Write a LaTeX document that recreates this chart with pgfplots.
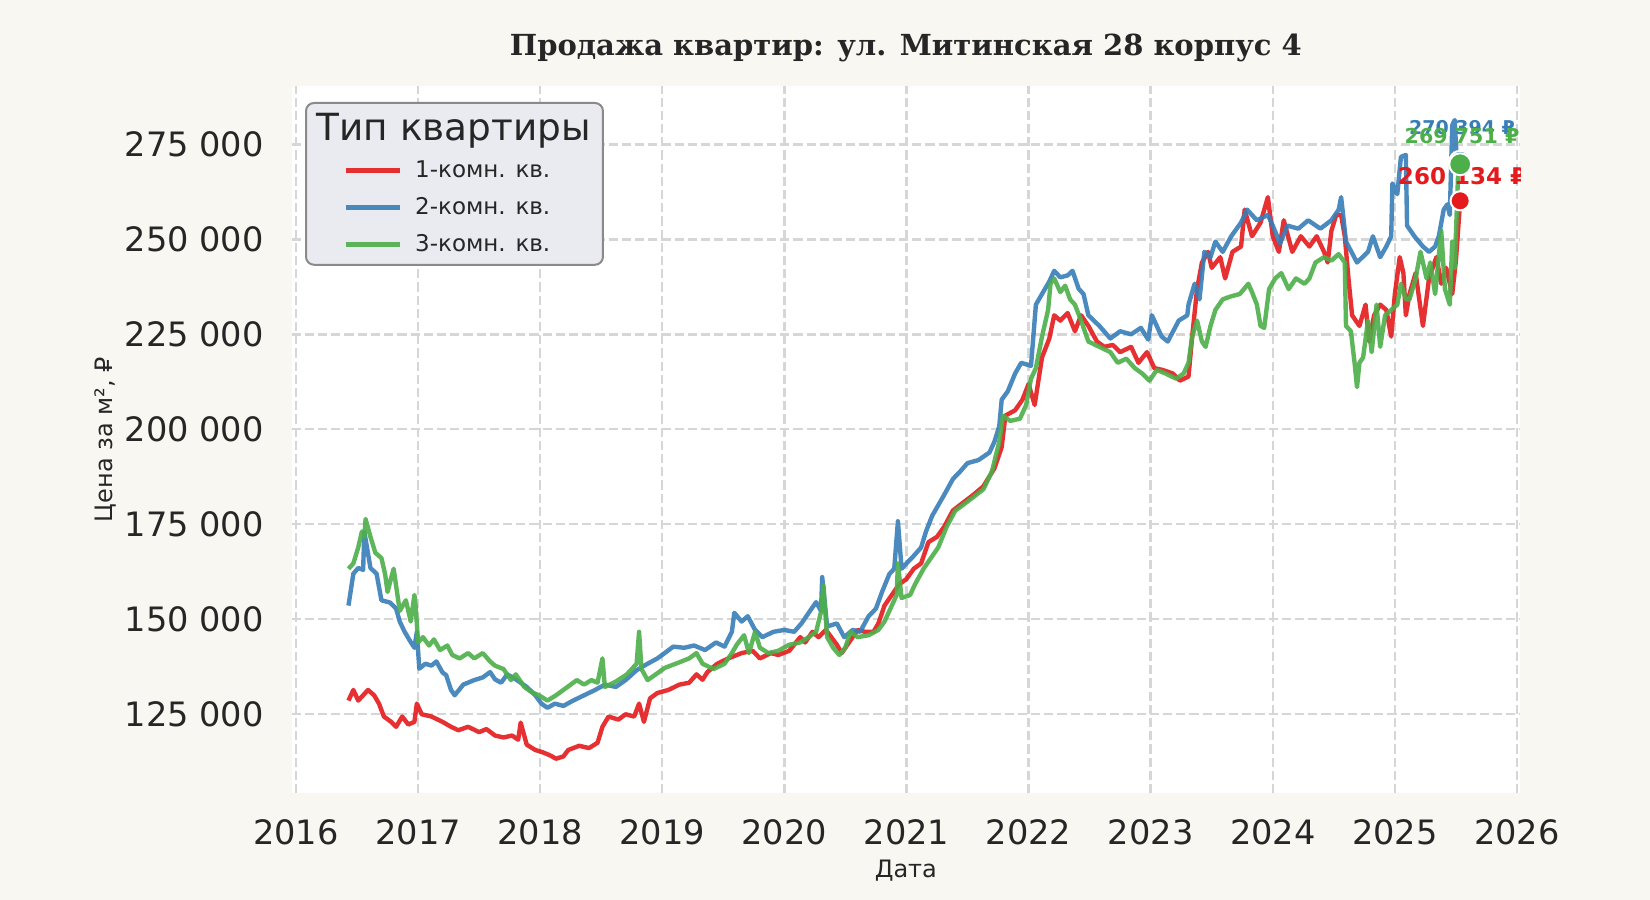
\documentclass[border=0pt]{standalone}
\usepackage{fontspec}
\setmainfont{DejaVu Sans}
\newfontfamily\titlefont{DejaVu Serif}
\usepackage{pgfplots}
\pgfplotsset{compat=1.18}

\definecolor{figbg}{HTML}{F8F7F2}
\definecolor{gridcol}{HTML}{D6D6D6}
\definecolor{textcol}{HTML}{262626}
\definecolor{legbg}{HTML}{EAEAF1}
\definecolor{legframe}{HTML}{8A8A8A}
\definecolor{redline}{HTML}{E41A1C}
\definecolor{blueline}{HTML}{377EB8}
\definecolor{greenline}{HTML}{4DAF4A}

\begin{document}
\begin{tikzpicture}
\fill[figbg] (0,0) rectangle (825pt,450pt);
\useasboundingbox (0,0) rectangle (825pt,450pt);
\begin{axis}[
  at={(145.85pt,53.35pt)}, anchor=south west,
  scale only axis, width=614.15pt, height=353.65pt,
  xmin=2015.965, xmax=2026.025, ymin=104200, ymax=290350,
  scaled y ticks=false, scaled x ticks=false,
  axis background/.style={fill=white},
  axis line style={draw=none},
  major tick length=0pt,
  grid=major,
  grid style={dash pattern=on 4.6pt off 2pt, line width=1.2pt, color=gridcol},
  xtick={2016,2017,2018,2019,2020,2021,2022,2023,2024,2025,2026},
  xticklabels={2016,2017,2018,2019,2020,2021,2022,2023,2024,2025,2026},
  ytick={125000,150000,175000,200000,225000,250000,275000},
  yticklabels={125 000,150 000,175 000,200 000,225 000,250 000,275 000},
  ticklabel style={font=\fontsize{16.8}{20}\selectfont, text=textcol},
  xticklabel style={anchor=north, inner sep=0pt, yshift=-13pt},
  yticklabel style={anchor=east, inner sep=0pt, xshift=-13.85pt},
  xlabel={Дата},
  ylabel={Цена за м², ₽},
  label style={font=\fontsize{12}{14}\selectfont, text=textcol},
  xlabel style={at={(axis description cs:0.5,-0.1099)}, anchor=center},
  ylabel style={at={(axis description cs:-0.1520,0.5)}, anchor=center},
  title={Продажа квартир: ул. Митинская 28 корпус 4},
  title style={at={(axis description cs:0.5,1.0362)}, anchor=center,
    font=\titlefont\bfseries\fontsize{14.5}{17}\selectfont, text=textcol},
  legend style={at={(axis description cs:0.01083,0.9774)}, anchor=north west,
    fill=legbg, draw=legframe, line width=1pt, rounded corners=4pt,
    inner xsep=4pt, inner ysep=3pt, row sep=4.6pt,
    font=\fontsize{11.5}{14}\selectfont, text=textcol,
    nodes={inner sep=2pt}, cells={anchor=west}},
  legend image code/.code={
    \path[draw=none] (0pt,0pt) -- (48.6pt,0pt);
    \draw[#1, line width=2.5pt, sharp corners] (15.8pt,0pt) -- (42.8pt,0pt);},
  every axis plot/.append style={line width=2.2pt, line join=round, opacity=0.9},
]
\addlegendimage{empty legend}
\addlegendentry{\hspace*{-49.2pt}\fontsize{18.7}{22}\selectfont Тип квартиры}

\addplot[color=redline] coordinates {
(2016.43,128600)(2016.47,131400)(2016.51,128600)(2016.55,130000)(2016.59,131400)
(2016.64,130000)(2016.68,127800)(2016.72,124400)(2016.78,123000)(2016.82,121700)
(2016.87,124400)(2016.92,122300)(2016.97,123000)(2016.99,127800)(2017.03,125000)
(2017.11,124400)(2017.20,123000)(2017.27,121700)(2017.33,120800)(2017.41,121700)
(2017.50,120300)(2017.56,121100)(2017.63,119400)(2017.70,118900)(2017.77,119400)
(2017.82,118300)(2017.84,122800)(2017.89,117000)(2017.96,115600)(2018.02,115000)
(2018.08,114200)(2018.13,113300)(2018.19,113900)(2018.23,115600)(2018.32,116700)
(2018.40,116100)(2018.47,117500)(2018.51,121700)(2018.56,124400)(2018.64,123600)
(2018.70,125000)(2018.77,124400)(2018.81,127800)(2018.85,123000)(2018.90,129200)
(2018.96,130600)(2019.05,131400)(2019.14,132800)(2019.22,133300)(2019.28,135500)
(2019.33,134100)(2019.37,136100)(2019.45,138300)(2019.54,139700)(2019.65,141100)
(2019.74,141700)(2019.80,139700)(2019.89,141100)(2019.95,140600)(2020.04,141700)
(2020.13,145300)(2020.17,143900)(2020.23,146700)(2020.28,145300)(2020.34,147200)
(2020.43,143300)(2020.47,141100)(2020.54,144400)(2020.60,147200)(2020.66,146700)
(2020.73,146700)(2020.77,148900)(2020.82,153600)(2020.88,156400)(2020.94,159200)
(2021.00,160600)(2021.06,163300)(2021.12,164700)(2021.18,170300)(2021.25,171700)
(2021.31,174400)(2021.38,178600)(2021.46,180600)(2021.55,182800)(2021.63,185000)
(2021.72,189700)(2021.78,195300)(2021.81,203600)(2021.89,205000)(2021.95,207800)
(2022.00,211900)(2022.05,206400)(2022.11,218900)(2022.17,223900)(2022.21,230000)
(2022.26,228600)(2022.32,230600)(2022.38,225800)(2022.43,230000)(2022.49,227200)
(2022.56,223100)(2022.62,221700)(2022.69,222200)(2022.75,220300)(2022.84,221700)
(2022.90,217500)(2022.97,220300)(2023.03,216100)(2023.10,215600)(2023.18,214700)
(2023.24,212800)(2023.31,213900)(2023.34,224400)(2023.38,236900)(2023.42,243900)
(2023.47,246700)(2023.50,242500)(2023.57,245300)(2023.61,239700)(2023.67,246700)
(2023.74,248100)(2023.77,257800)(2023.83,250800)(2023.90,254400)(2023.96,261100)
(2024.00,250800)(2024.05,246700)(2024.09,255000)(2024.16,246700)(2024.23,250800)
(2024.30,248100)(2024.36,250800)(2024.42,246700)(2024.45,243900)(2024.48,252200)
(2024.52,256400)(2024.56,256400)(2024.59,250800)(2024.62,239700)(2024.65,230000)
(2024.71,227200)(2024.76,232800)(2024.79,223100)(2024.83,230000)(2024.88,232800)
(2024.93,231400)(2024.97,224400)(2025.00,235600)(2025.04,245300)(2025.07,241100)
(2025.09,230000)(2025.12,235600)(2025.17,241100)(2025.23,227200)(2025.28,239700)
(2025.34,245300)(2025.38,238300)(2025.42,242500)(2025.47,235600)(2025.50,244400)
(2025.535,260134)
};
\addlegendentry{1-комн. кв.}

\addplot[color=blueline] coordinates {
(2016.43,153600)(2016.47,162000)(2016.51,163500)(2016.55,163000)(2016.56,173000)
(2016.61,163500)(2016.66,162000)(2016.70,155000)(2016.77,154400)(2016.82,152800)
(2016.85,149400)(2016.89,146700)(2016.94,144000)(2016.97,142500)(2016.99,146700)
(2017.01,137000)(2017.06,138300)(2017.11,137800)(2017.15,138900)(2017.20,136000)
(2017.23,135300)(2017.27,131400)(2017.30,130000)(2017.37,132800)(2017.46,134000)
(2017.53,134700)(2017.59,136100)(2017.63,134200)(2017.68,133300)(2017.73,135500)
(2017.80,134200)(2017.89,132200)(2017.96,130000)(2018.01,127800)(2018.06,126700)
(2018.12,127800)(2018.19,127200)(2018.27,128600)(2018.36,130000)(2018.45,131400)
(2018.53,132800)(2018.62,132200)(2018.70,134000)(2018.79,136600)(2018.88,138300)
(2018.96,139700)(2019.02,141100)(2019.09,142800)(2019.18,142500)(2019.26,143100)
(2019.35,141900)(2019.44,143900)(2019.51,142800)(2019.57,146700)(2019.59,151700)
(2019.65,149400)(2019.70,150800)(2019.76,147200)(2019.82,145300)(2019.91,146700)
(2020.00,147200)(2020.08,146700)(2020.14,148900)(2020.21,152200)(2020.26,154500)
(2020.30,152200)(2020.31,161100)(2020.35,148100)(2020.43,148900)(2020.49,145300)
(2020.56,147200)(2020.62,146700)(2020.69,150800)(2020.75,152800)(2020.80,157200)
(2020.86,161900)(2020.90,163300)(2020.93,175800)(2020.96,163300)(2021.00,164700)
(2021.06,166700)(2021.12,168900)(2021.16,173100)(2021.21,177200)(2021.26,180000)
(2021.31,182800)(2021.38,186900)(2021.44,188900)(2021.50,191100)(2021.59,191900)
(2021.68,193900)(2021.72,196700)(2021.76,200800)(2021.78,207800)(2021.83,210000)
(2021.89,214700)(2021.94,217500)(2022.02,216700)(2022.06,232800)(2022.11,235600)
(2022.17,238900)(2022.21,241700)(2022.26,240000)(2022.32,240500)(2022.36,241700)
(2022.41,237000)(2022.45,235600)(2022.49,230000)(2022.58,227200)(2022.67,223900)
(2022.75,225800)(2022.84,225000)(2022.92,226700)(2022.98,223600)(2023.01,230000)
(2023.09,224400)(2023.14,223100)(2023.23,228600)(2023.30,230000)(2023.31,232800)
(2023.36,238300)(2023.40,234200)(2023.44,246700)(2023.49,245300)(2023.53,249400)
(2023.59,246700)(2023.66,250800)(2023.74,254400)(2023.79,257800)(2023.87,255000)
(2023.96,256400)(2024.00,253600)(2024.06,248900)(2024.12,253600)(2024.21,252800)
(2024.29,255000)(2024.39,252800)(2024.48,255000)(2024.54,257800)(2024.56,261100)
(2024.60,249400)(2024.69,243900)(2024.78,246700)(2024.82,250800)(2024.88,245300)
(2024.93,248100)(2024.97,250800)(2024.98,264700)(2025.02,261900)(2025.05,271700)
(2025.09,272200)(2025.10,253600)(2025.16,250800)(2025.23,248100)(2025.28,246700)
(2025.33,248100)(2025.36,250800)(2025.40,257800)(2025.43,259200)(2025.45,256400)
(2025.47,280000)(2025.49,281400)(2025.51,268900)(2025.535,270394)
};
\addlegendentry{2-комн. кв.}

\addplot[color=greenline] coordinates {
(2016.43,163300)(2016.47,164700)(2016.51,168900)(2016.54,173100)(2016.56,171700)
(2016.57,176400)(2016.61,171700)(2016.65,167500)(2016.70,166100)(2016.73,161900)
(2016.75,157200)(2016.77,159700)(2016.80,163300)(2016.85,152200)(2016.90,155000)
(2016.94,149400)(2016.97,156400)(2016.98,153600)(2017.00,143900)(2017.04,145300)
(2017.09,143100)(2017.13,144700)(2017.18,141900)(2017.24,143100)(2017.28,140600)
(2017.34,139700)(2017.41,141100)(2017.46,139700)(2017.53,141100)(2017.59,138900)
(2017.63,137800)(2017.70,136900)(2017.76,134000)(2017.80,135500)(2017.87,132200)
(2017.93,130800)(2017.99,130000)(2018.06,128600)(2018.13,130000)(2018.19,131400)
(2018.25,132800)(2018.30,134000)(2018.36,132800)(2018.42,134000)(2018.47,133300)
(2018.51,139700)(2018.53,132200)(2018.62,133600)(2018.71,135500)(2018.79,138300)
(2018.81,146700)(2018.83,136900)(2018.88,134000)(2018.96,135800)(2019.02,137200)
(2019.11,138300)(2019.22,139700)(2019.28,141100)(2019.33,138300)(2019.42,136900)
(2019.51,138300)(2019.57,141100)(2019.61,143300)(2019.67,145800)(2019.71,141100)
(2019.76,146700)(2019.80,142500)(2019.87,141100)(2019.95,141700)(2020.04,143300)
(2020.13,143900)(2020.20,145300)(2020.26,146700)(2020.30,151900)(2020.32,158900)
(2020.35,145300)(2020.40,142500)(2020.45,140600)(2020.50,142500)(2020.54,146700)
(2020.60,145300)(2020.69,145800)(2020.77,147200)(2020.82,149400)(2020.88,153600)
(2020.92,156400)(2020.93,164700)(2020.96,155600)(2021.03,156400)(2021.07,159200)
(2021.14,163300)(2021.20,166100)(2021.26,168900)(2021.33,174400)(2021.40,178600)
(2021.46,180000)(2021.55,182200)(2021.63,184200)(2021.70,188900)(2021.76,196700)
(2021.79,203600)(2021.85,202200)(2021.93,202800)(2021.98,206400)(2022.02,213300)
(2022.06,216100)(2022.11,224400)(2022.16,231400)(2022.18,238300)(2022.21,239700)
(2022.26,236100)(2022.30,237800)(2022.34,234200)(2022.38,232800)(2022.43,228600)
(2022.49,223100)(2022.58,221700)(2022.67,220300)(2022.73,217500)(2022.80,218600)
(2022.87,216100)(2022.93,214700)(2022.99,212800)(2023.05,215600)(2023.12,214700)
(2023.21,213300)(2023.27,214700)(2023.31,217500)(2023.34,224400)(2023.38,228600)
(2023.42,223100)(2023.45,221700)(2023.49,227200)(2023.53,231400)(2023.59,234200)
(2023.66,235000)(2023.73,235600)(2023.80,238300)(2023.83,236100)(2023.87,232800)
(2023.90,227200)(2023.93,226700)(2023.97,236900)(2024.02,239700)(2024.07,241100)
(2024.13,236900)(2024.19,239700)(2024.26,238300)(2024.30,239700)(2024.35,243900)
(2024.42,245300)(2024.48,244400)(2024.54,246100)(2024.59,243900)(2024.60,227200)
(2024.64,225800)(2024.67,217500)(2024.69,211100)(2024.71,217500)(2024.74,218900)
(2024.78,228600)(2024.81,220300)(2024.85,232800)(2024.88,221700)(2024.92,230000)
(2024.97,231400)(2025.02,232800)(2025.05,238300)(2025.09,234200)(2025.12,234200)
(2025.17,239700)(2025.21,246700)(2025.26,239700)(2025.29,243900)(2025.33,235600)
(2025.38,252200)(2025.41,236900)(2025.45,232800)(2025.47,249400)(2025.49,242500)
(2025.52,268900)(2025.535,269751)
};
\addlegendentry{3-комн. кв.}

\addplot[only marks, mark=*, mark size=4.8pt, opacity=1, forget plot,
  mark options={fill=redline, draw=white, line width=1pt}] coordinates {(2025.535,260134)};
\addplot[only marks, mark=*, mark size=5.5pt, opacity=1, forget plot,
  mark options={fill=blueline, draw=white, line width=1pt}] coordinates {(2025.535,270394)};
\addplot[only marks, mark=*, mark size=5.5pt, opacity=1, forget plot,
  mark options={fill=greenline, draw=white, line width=1pt}] coordinates {(2025.535,269751)};

\node[font=\bfseries\fontsize{9.5}{11}\selectfont, text=blueline] at (axis cs:2025.55,279300) {270 394 ₽};
\node[font=\bfseries\fontsize{10.3}{12}\selectfont, text=greenline] at (axis cs:2025.55,277300) {269 751 ₽};
\node[font=\bfseries\fontsize{11.5}{13}\selectfont, text=redline] at (axis cs:2025.55,266660) {260 134 ₽};
\end{axis}
\end{tikzpicture}
\end{document}
